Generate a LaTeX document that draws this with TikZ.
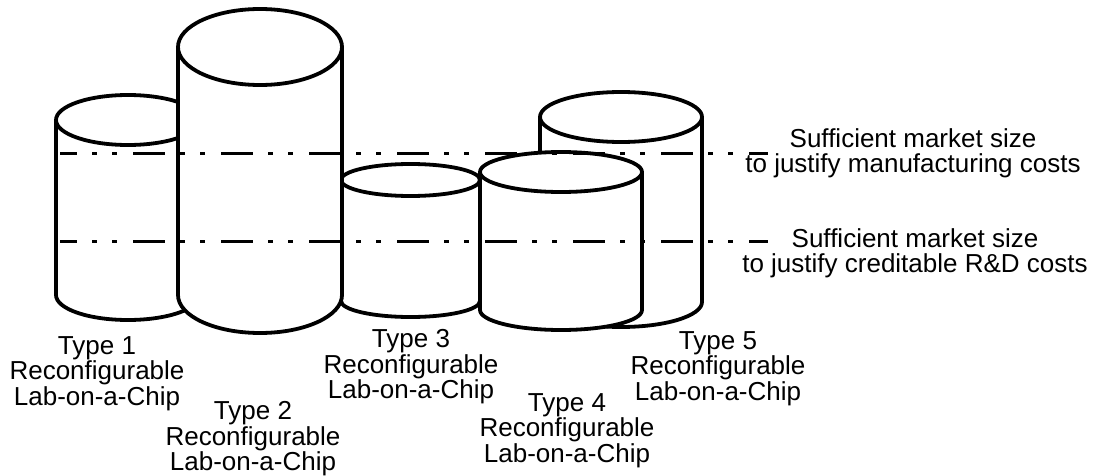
\documentclass[tikz,border=0pt]{standalone}
\usepackage{fontspec}
\setmainfont{Liberation Sans}

\tikzset{
  chipwall/.style={line width=3.8pt, line join=round},
  levelline/.style={line width=3pt, dash pattern=on 32pt off 15pt on 5pt off 15pt on 5pt off 16pt, dash phase=15pt},
  chiplabel/.style={anchor=north, align=center, inner sep=0pt, font=\fontsize{26}{25.5}\selectfont}
}

\begin{document}
\begin{tikzpicture}[x=1pt,y=1pt]
  \useasboundingbox (0,0) rectangle (1105,475);

  % Draw the cylinders from the back to the front
  \foreach \cx/\rx/\ytop/\ybot/\ry in {621/81/358/173/25, 410.5/69.5/295/174/16, 128/72/355/180/25, 561/81/303/165/20, 260/82/428/180/38}{
    % white body so the ones behind are hidden
    \fill[white] (\cx-\rx,\ytop) -- (\cx-\rx,\ybot) arc[start angle=180,end angle=360,x radius=\rx,y radius=\ry] -- (\cx+\rx,\ytop) -- cycle;
    \draw[chipwall] (\cx-\rx,\ytop) -- (\cx-\rx,\ybot) arc[start angle=180,end angle=360,x radius=\rx,y radius=\ry] -- (\cx+\rx,\ytop);
    \draw[chipwall,fill=white] (\cx,\ytop) ellipse [x radius=\rx,y radius=\ry];
  }

  % Market size levels
  \coordinate (mfgstart) at (60,322);
  \coordinate (mfgend) at (768,322);
  \coordinate (rdstart) at (60,234);
  \coordinate (rdend) at (768,234);
  \draw[levelline] (mfgstart) -- (mfgend);
  \draw[levelline] (rdstart) -- (rdend);

  \node[chiplabel] (mfglabel) at (913,347) {Sufficient market size\\to justify manufacturing costs};
  \node[chiplabel] (rdlabel) at (915,247) {Sufficient market size\\to justify creditable R\&D costs};

  % Labels under the chips
  \foreach \n/\x/\y in {1/97/138.6, 2/253/73.6, 3/411/145.6, 4/567/81.6, 5/718/143.6}{
    \node[chiplabel] (type\n) at (\x,\y) {Type \n\\Reconfigurable\\Lab-on-a-Chip};
  }
\end{tikzpicture}
\end{document}
